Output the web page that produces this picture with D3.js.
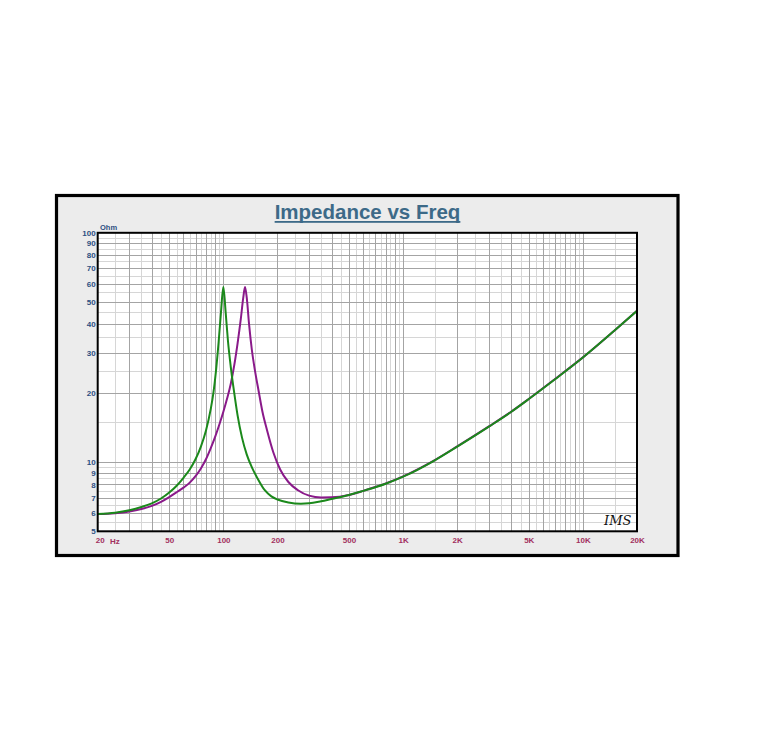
<!DOCTYPE html>
<html>
<head>
<meta charset="utf-8">
<script src="https://cdn.jsdelivr.net/npm/d3@7"></script>
<style>
  html, body { margin: 0; padding: 0; background: #ffffff; }
  svg { display: block; }
</style>
</head>
<body>
<svg id="chart" width="763" height="756"></svg>
<script>
// ---- data ----
const title = "Impedance vs Freq";
const unitLabel = "Ohm";

const greenFreq = [20, 25, 30, 35, 40, 45, 50, 55, 60, 65, 70, 75, 80, 85, 88, 91, 94, 97, 100,
  103, 106, 110, 115, 120, 127, 135, 145, 155, 170, 185, 200, 230, 270, 300, 350, 400, 500,
  600, 700, 800, 1000, 1500, 2000, 3000, 4000, 5000, 7000, 10000, 15000, 20000];
const greenZ = [5.95, 6.03, 6.18, 6.38, 6.62, 6.95, 7.38, 7.9, 8.55, 9.3, 10.3, 11.7, 13.7, 17, 20, 25, 33, 45, 58,
  45, 34, 26, 20, 16, 12.8, 10.8, 9.4, 8.5, 7.55, 7.1, 6.88, 6.68, 6.6, 6.62, 6.76, 6.92, 7.2,
  7.5, 7.78, 8.06, 8.65, 10.2, 11.7, 14.3, 16.6, 18.85, 23, 28.6, 37.5, 45.7];

const purpleFreq = [20, 25, 30, 35, 40, 45, 50, 55, 60, 65, 70, 75, 80, 85, 90, 95, 100, 105,
  110, 115, 120, 125, 129, 132, 135, 139, 144, 150, 157, 165, 175, 190, 207, 230, 260,
  300, 350, 400, 500, 600, 700, 800, 1000, 1500, 2000, 3000, 4000, 5000, 7000, 10000, 15000, 20000];
const purpleZ = [5.95, 6.0, 6.1, 6.25, 6.45, 6.72, 7.05, 7.4, 7.75, 8.15, 8.7, 9.4, 10.3, 11.5, 12.9, 14.6, 16.6, 19.0,
  22.0, 26.5, 33, 42, 52, 58, 52, 40, 31, 25, 20.5, 16.6, 13.8, 11, 9.3, 8.2, 7.55,
  7.15, 7.02, 7.03, 7.2, 7.5, 7.8, 8.08, 8.68, 10.22, 11.72, 14.32, 16.62, 18.87, 23.05, 28.65, 37.55, 45.75];

const xTickValues = [20, 50, 100, 200, 500, 1000, 2000, 5000, 10000, 20000];
const xTickLabels = ["20", "50", "100", "200", "500", "1K", "2K", "5K", "10K", "20K"];
const yTickValues = [100, 90, 80, 70, 60, 50, 40, 30, 20, 10, 9, 8, 7, 6, 5];
const yTickLabels = ["100", "90", "80", "70", "60", "50", "40", "30", "20", "10", "9", "8", "7", "6", "5"];

// ---- layout ----
const svg = d3.select("#chart");
const plot = { left: 97.7, right: 637, top: 232.8, bottom: 531.3 };

const x = d3.scaleLog().domain([20, 20000]).range([plot.left, plot.right]);
const y = d3.scaleLog().domain([5, 100]).range([plot.bottom, plot.top]);

// outer frame
svg.append("rect")
  .attr("x", 56.5).attr("y", 195.5)
  .attr("width", 621.5).attr("height", 360)
  .attr("fill", "#ececec")
  .attr("stroke", "#000").attr("stroke-width", 3.2);

// title
const titleText = svg.append("text")
  .attr("x", 367.5).attr("y", 218.5)
  .attr("text-anchor", "middle")
  .attr("font-family", "Liberation Sans, Arial, sans-serif")
  .attr("font-weight", "bold")
  .attr("font-size", 20.5)
  .attr("fill", "#3d6a88")
  .text(title);
const tw = titleText.node().getComputedTextLength();
svg.append("rect")
  .attr("x", 367.5 - tw / 2).attr("y", 221)
  .attr("width", tw).attr("height", 1.8)
  .attr("fill", "#3d6a88");

// plot background
svg.append("rect")
  .attr("x", plot.left).attr("y", plot.top)
  .attr("width", plot.right - plot.left).attr("height", plot.bottom - plot.top)
  .attr("fill", "#ffffff");

// grid lines
const xMajor = [], xMinor = [];
for (let dec = 10; dec <= 10000; dec *= 10) {
  for (let m = 1; m <= 9; m++) {
    const v = m * dec;
    if (v > 20 && v < 20000) xMajor.push(v);
    const h = (m + 0.5) * dec;
    if (h > 20 && h < 20000) xMinor.push(h);
  }
}
const yMajor = [], yMinor = [];
for (let dec = 1; dec <= 10; dec *= 10) {
  for (let m = 1; m <= 9; m++) {
    const v = m * dec;
    if (v > 5 && v < 100) yMajor.push(v);
    const h = (m + 0.5) * dec;
    if (h > 5 && h < 100) yMinor.push(h);
  }
}
const grid = svg.append("g").attr("shape-rendering", "crispEdges");
grid.selectAll(".xmin").data(xMinor).join("line")
  .attr("x1", d => Math.round(x(d)) + 0.5).attr("x2", d => Math.round(x(d)) + 0.5)
  .attr("y1", plot.top).attr("y2", plot.bottom)
  .attr("stroke", "#d6d6d6").attr("stroke-width", 1);
grid.selectAll(".ymin").data(yMinor).join("line")
  .attr("y1", d => Math.round(y(d)) + 0.5).attr("y2", d => Math.round(y(d)) + 0.5)
  .attr("x1", plot.left).attr("x2", plot.right)
  .attr("stroke", "#d6d6d6").attr("stroke-width", 1);
grid.selectAll(".xmaj").data(xMajor).join("line")
  .attr("x1", d => Math.round(x(d)) + 0.5).attr("x2", d => Math.round(x(d)) + 0.5)
  .attr("y1", plot.top).attr("y2", plot.bottom)
  .attr("stroke", "#a4a4a4").attr("stroke-width", 1);
grid.selectAll(".ymaj").data(yMajor).join("line")
  .attr("y1", d => Math.round(y(d)) + 0.5).attr("y2", d => Math.round(y(d)) + 0.5)
  .attr("x1", plot.left).attr("x2", plot.right)
  .attr("stroke", "#a4a4a4").attr("stroke-width", 1);

// curves
const line = d3.line()
  .x(d => x(d[0])).y(d => y(d[1]))
  .curve(d3.curveMonotoneX);

svg.append("clipPath").attr("id", "clip")
  .append("rect").attr("x", plot.left).attr("y", plot.top)
  .attr("width", plot.right - plot.left).attr("height", plot.bottom - plot.top);

const curves = svg.append("g").attr("clip-path", "url(#clip)");
curves.append("path")
  .datum(d3.zip(purpleFreq, purpleZ))
  .attr("d", line)
  .attr("fill", "none").attr("stroke", "#8a1a8a").attr("stroke-width", 2)
  .attr("stroke-linejoin", "round");
curves.append("path")
  .datum(d3.zip(greenFreq, greenZ))
  .attr("d", line)
  .attr("fill", "none").attr("stroke", "#1b891b").attr("stroke-width", 2)
  .attr("stroke-linejoin", "round");

// plot border
svg.append("rect")
  .attr("x", plot.left).attr("y", plot.top)
  .attr("width", plot.right - plot.left).attr("height", plot.bottom - plot.top)
  .attr("fill", "none").attr("stroke", "#000").attr("stroke-width", 2);

// axes (labels only, drawn via d3 axes)
const xAxis = d3.axisBottom(x).tickValues(xTickValues)
  .tickFormat((d, i) => xTickLabels[i]).tickSize(0).tickPadding(0);
const gx = svg.append("g").attr("transform", `translate(0,${plot.bottom + 6})`).call(xAxis);
gx.select(".domain").remove();
gx.selectAll("text")
  .attr("font-family", "Liberation Sans, Arial, sans-serif")
  .attr("font-size", 8).attr("font-weight", "bold")
  .attr("fill", "#a2305e");
gx.selectAll(".tick").filter(d => d === 20).select("text")
  .attr("dx", 2);
svg.append("text")
  .attr("x", 110).attr("y", plot.bottom + 12.5)
  .attr("font-family", "Liberation Sans, Arial, sans-serif")
  .attr("font-size", 8).attr("font-weight", "bold")
  .attr("fill", "#a2305e")
  .text("Hz");

const yAxis = d3.axisLeft(y).tickValues(yTickValues)
  .tickFormat((d, i) => yTickLabels[i]).tickSize(0).tickPadding(0);
const gy = svg.append("g").attr("transform", `translate(${plot.left - 2},0)`).call(yAxis);
gy.select(".domain").remove();
gy.selectAll("text")
  .attr("font-family", "Liberation Sans, Arial, sans-serif")
  .attr("font-size", 8).attr("font-weight", "bold")
  .attr("fill", "#2c4f82");

svg.append("text")
  .attr("x", 100).attr("y", 229.5)
  .attr("font-family", "Liberation Sans, Arial, sans-serif")
  .attr("font-size", 7.5).attr("font-weight", "bold")
  .attr("fill", "#2c4f82")
  .text(unitLabel);

// IMS mark
svg.append("text")
  .attr("x", 604).attr("y", 525)
  .attr("font-family", "DejaVu Serif, serif")
  .attr("font-style", "italic")
  .attr("font-size", 13)
  .attr("fill", "#111")
  .text("IMS");
</script>
</body>
</html>
